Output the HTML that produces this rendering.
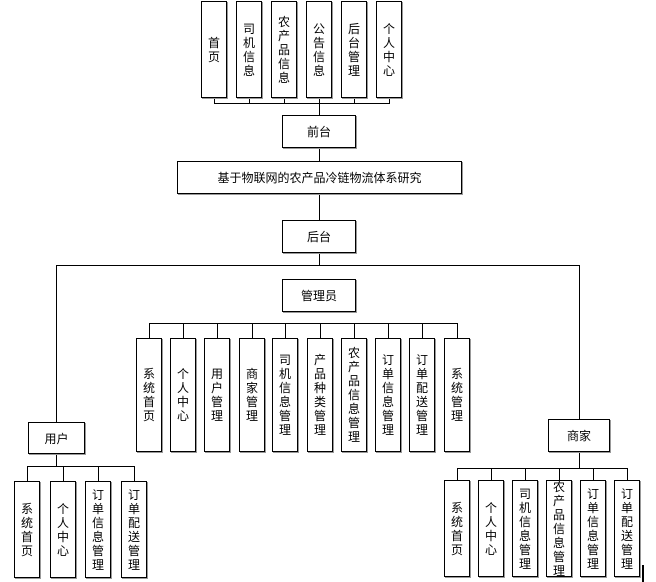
<!DOCTYPE html>
<html><head><meta charset="utf-8"><style>
body{margin:0;width:656px;height:582px;background:#fff;position:relative;overflow:hidden;font-family:"Liberation Sans","Noto Sans CJK SC",sans-serif;font-size:12px;color:#000}
.b{position:absolute;border:1px solid #000;box-sizing:border-box;box-shadow:1px 1px 0 #999;background:#fff;display:flex;align-items:center;justify-content:center}
.v span{width:12px;line-height:14px;word-break:break-all;text-align:center}
.l{position:absolute;background:#000}
</style></head><body>
<!-- top bus -->
<div class="l" style="left:214px;top:103px;width:176px;height:1px"></div>
<div class="l" style="left:214px;top:97px;width:1px;height:6px"></div>
<div class="l" style="left:249px;top:97px;width:1px;height:6px"></div>
<div class="l" style="left:284px;top:97px;width:1px;height:6px"></div>
<div class="l" style="left:319px;top:97px;width:1px;height:6px"></div>
<div class="l" style="left:354px;top:97px;width:1px;height:6px"></div>
<div class="l" style="left:389px;top:97px;width:1px;height:6px"></div>
<div class="l" style="left:319px;top:103px;width:1px;height:163px"></div>
<div class="l" style="left:56px;top:265px;width:524px;height:1px"></div>
<div class="l" style="left:56px;top:265px;width:1px;height:158px"></div>
<div class="l" style="left:579px;top:265px;width:1px;height:155px"></div>
<!-- manager bus -->
<div class="l" style="left:149px;top:323px;width:309px;height:1px"></div>
<div class="l" style="left:149px;top:323px;width:1px;height:15px"></div>
<div class="l" style="left:183px;top:323px;width:1px;height:15px"></div>
<div class="l" style="left:217px;top:323px;width:1px;height:15px"></div>
<div class="l" style="left:252px;top:323px;width:1px;height:15px"></div>
<div class="l" style="left:285px;top:323px;width:1px;height:15px"></div>
<div class="l" style="left:320px;top:323px;width:1px;height:15px"></div>
<div class="l" style="left:354px;top:323px;width:1px;height:15px"></div>
<div class="l" style="left:388px;top:323px;width:1px;height:15px"></div>
<div class="l" style="left:422px;top:323px;width:1px;height:15px"></div>
<div class="l" style="left:457px;top:323px;width:1px;height:15px"></div>
<!-- user bus -->
<div class="l" style="left:56px;top:453px;width:1px;height:14px"></div>
<div class="l" style="left:27px;top:466px;width:108px;height:1px"></div>
<div class="l" style="left:27px;top:466px;width:1px;height:15px"></div>
<div class="l" style="left:63px;top:466px;width:1px;height:15px"></div>
<div class="l" style="left:98px;top:466px;width:1px;height:15px"></div>
<div class="l" style="left:134px;top:466px;width:1px;height:15px"></div>
<!-- merchant bus -->
<div class="l" style="left:579px;top:451px;width:1px;height:17px"></div>
<div class="l" style="left:457px;top:468px;width:171px;height:1px"></div>
<div class="l" style="left:457px;top:468px;width:1px;height:12px"></div>
<div class="l" style="left:491px;top:468px;width:1px;height:12px"></div>
<div class="l" style="left:525px;top:468px;width:1px;height:12px"></div>
<div class="l" style="left:559px;top:468px;width:1px;height:12px"></div>
<div class="l" style="left:593px;top:468px;width:1px;height:12px"></div>
<div class="l" style="left:627px;top:468px;width:1px;height:12px"></div>
<div class="l" style="left:642px;top:565px;width:2px;height:17px"></div>
<!-- top boxes -->
<div class="b v" style="left:201px;top:1px;width:26px;height:97px"><span>首页</span></div>
<div class="b v" style="left:236px;top:1px;width:26px;height:97px"><span>司机信息</span></div>
<div class="b v" style="left:271px;top:1px;width:26px;height:97px"><span>农产品信息</span></div>
<div class="b v" style="left:306px;top:1px;width:26px;height:97px"><span>公告信息</span></div>
<div class="b v" style="left:341px;top:1px;width:26px;height:97px"><span>后台管理</span></div>
<div class="b v" style="left:376px;top:1px;width:26px;height:97px"><span>个人中心</span></div>
<div class="b" style="left:282px;top:115px;width:74px;height:33px">前台</div>
<div class="b" style="left:177px;top:161px;width:285px;height:33px">基于物联网的农产品冷链物流体系研究</div>
<div class="b" style="left:282px;top:220px;width:74px;height:33px">后台</div>
<div class="b" style="left:282px;top:279px;width:74px;height:33px">管理员</div>
<!-- admin -->
<div class="b v" style="left:136px;top:338px;width:26px;height:114px"><span>系统首页</span></div>
<div class="b v" style="left:170px;top:338px;width:26px;height:114px"><span>个人中心</span></div>
<div class="b v" style="left:204px;top:338px;width:26px;height:114px"><span>用户管理</span></div>
<div class="b v" style="left:239px;top:338px;width:26px;height:114px"><span>商家管理</span></div>
<div class="b v" style="left:272px;top:338px;width:26px;height:114px"><span>司机信息管理</span></div>
<div class="b v" style="left:307px;top:338px;width:26px;height:114px"><span>产品种类管理</span></div>
<div class="b v" style="left:341px;top:338px;width:26px;height:114px"><span>农产品信息管理</span></div>
<div class="b v" style="left:375px;top:338px;width:26px;height:114px"><span>订单信息管理</span></div>
<div class="b v" style="left:409px;top:338px;width:26px;height:114px"><span>订单配送管理</span></div>
<div class="b v" style="left:444px;top:338px;width:26px;height:114px"><span>系统管理</span></div>
<!-- user -->
<div class="b" style="left:28px;top:422px;width:57px;height:32px">用户</div>
<div class="b v" style="left:14px;top:481px;width:26px;height:97px"><span>系统首页</span></div>
<div class="b v" style="left:50px;top:481px;width:26px;height:97px"><span>个人中心</span></div>
<div class="b v" style="left:85px;top:481px;width:26px;height:97px"><span>订单信息管理</span></div>
<div class="b v" style="left:121px;top:481px;width:26px;height:97px"><span>订单配送管理</span></div>
<!-- merchant -->
<div class="b" style="left:548px;top:419px;width:62px;height:33px">商家</div>
<div class="b v" style="left:444px;top:480px;width:26px;height:97px"><span>系统首页</span></div>
<div class="b v" style="left:478px;top:480px;width:26px;height:97px"><span>个人中心</span></div>
<div class="b v" style="left:512px;top:480px;width:26px;height:97px"><span>司机信息管理</span></div>
<div class="b v" style="left:546px;top:480px;width:26px;height:97px"><span>农产品信息管理</span></div>
<div class="b v" style="left:580px;top:480px;width:26px;height:97px"><span>订单信息管理</span></div>
<div class="b v" style="left:614px;top:480px;width:26px;height:97px"><span>订单配送管理</span></div>
</body></html>
